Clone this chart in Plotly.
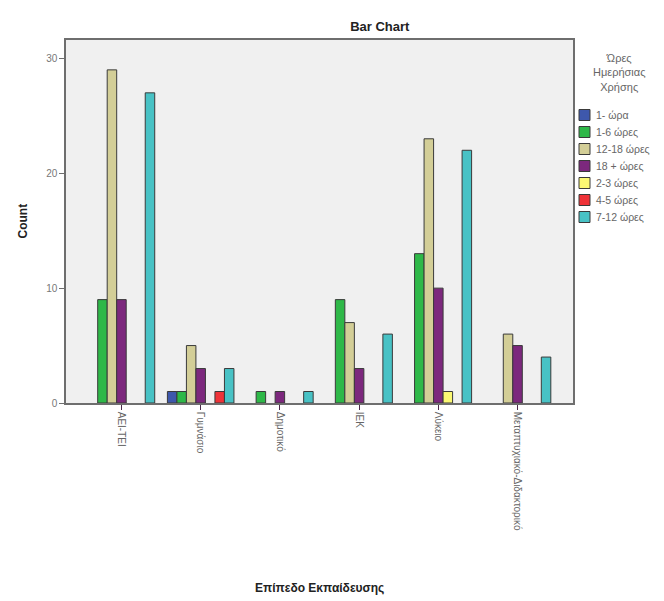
import plotly.graph_objects as go

# Education level categories (x axis)
education = ["ΑΕΙ-ΤΕΙ", "Γυμνάσιο", "Δημοτικό", "ΙΕΚ", "Λύκειο", "Μεταπτυχιακό-Διδακτορικό"]

# Daily usage hours groups (legend order)
hours_groups = ["1- ώρα", "1-6 ώρες", "12-18 ώρες", "18 + ώρες", "2-3 ώρες", "4-5 ώρες", "7-12 ώρες"]

# Counts per usage group, one value per education level
count_1h = [0, 1, 0, 0, 0, 0]
count_1_6 = [9, 1, 1, 9, 13, 0]
count_12_18 = [29, 5, 0, 7, 23, 6]
count_18p = [9, 3, 1, 3, 10, 5]
count_2_3 = [0, 0, 0, 0, 1, 0]
count_4_5 = [0, 1, 0, 0, 0, 0]
count_7_12 = [27, 3, 1, 6, 22, 4]

series_counts = [count_1h, count_1_6, count_12_18, count_18p, count_2_3, count_4_5, count_7_12]
series_colors = ["#3E58AC", "#2EB848", "#D3CE97", "#7C287D", "#FBF873", "#EF3338", "#48C2C5"]

W, H = 664, 601
ML, MR, MT, MB = 66, 91, 40, 198
PW, PH = W - ML - MR, H - MT - MB


def px_x(px):
    return (px - ML) / PW


def px_y(py):
    return (H - MB - py) / PH


fig = go.Figure()
for name, vals, col in zip(hours_groups, series_counts, series_colors):
    fig.add_trace(go.Bar(
        x=education,
        y=[v if v else None for v in vals],
        name=name,
        showlegend=False,
        marker=dict(color=col, line=dict(color="#3a3a3a", width=1)),
    ))

# Legend drawn as a compact key in the right margin
shapes = []
annotations = [
    dict(text="<b>Count</b>", textangle=-90, xref="paper", yref="paper",
         x=px_x(22), y=0.5, xanchor="center", yanchor="middle", showarrow=False,
         font=dict(size=12, color="#222222")),
    dict(text="<b>Επίπεδο Εκπαίδευσης</b>", xref="paper", yref="paper",
         x=0.5, y=px_y(588), xanchor="center", yanchor="middle", showarrow=False,
         font=dict(size=12, color="#222222")),
    dict(text="Ώρες<br>Ημερήσιας<br>Χρήσης", xref="paper", yref="paper",
         x=px_x(619), y=px_y(50), xanchor="center", yanchor="top", align="center",
         showarrow=False, font=dict(size=11, color="#666666")),
]
key_top, key_step, sw = 115, 17, 11
for i, (name, col) in enumerate(zip(hours_groups, series_colors)):
    cy = key_top + i * key_step
    shapes.append(dict(type="rect", xref="paper", yref="paper",
                       x0=px_x(579), x1=px_x(579 + sw),
                       y0=px_y(cy - sw / 2), y1=px_y(cy + sw / 2),
                       fillcolor=col, line=dict(color="#3a3a3a", width=1)))
    annotations.append(dict(text=name, xref="paper", yref="paper",
                            x=px_x(594), y=px_y(cy), xanchor="left", yanchor="middle",
                            showarrow=False, font=dict(size=10.5, color="#666666")))

axis_col = "#6e6e6e"
fig.update_layout(
    width=W, height=H,
    margin=dict(l=ML, r=MR, t=MT, b=MB, autoexpand=False),
    paper_bgcolor="white",
    plot_bgcolor="#F0F0F0",
    barmode="group",
    bargap=0.16,
    bargroupgap=0,
    showlegend=False,
    font=dict(family="Liberation Sans, Arial", size=10, color="#555555"),
    title=dict(text="<b>Bar Chart</b>", x=0.572, xref="container", xanchor="center",
               y=1 - 26 / H, yref="container", yanchor="middle",
               font=dict(size=13, color="#222222")),
    xaxis=dict(
        type="category",
        range=[-0.7, 5.7],
        tickangle=90,
        ticks="outside", ticklen=5, tickcolor="#4a2a4a",
        showline=True, linecolor=axis_col, linewidth=1.5, mirror=True,
        showgrid=False,
        tickfont=dict(size=10, color="#666666"),
    ),
    yaxis=dict(
        range=[0, 31.6],
        tickvals=[0, 10, 20, 30],
        ticks="outside", ticklen=5, tickcolor=axis_col,
        showline=True, linecolor=axis_col, linewidth=1.5, mirror=True,
        showgrid=False, zeroline=False,
        tickfont=dict(size=10, color="#777777"),
    ),
    shapes=shapes,
    annotations=annotations,
)

fig.write_html("out.html")
